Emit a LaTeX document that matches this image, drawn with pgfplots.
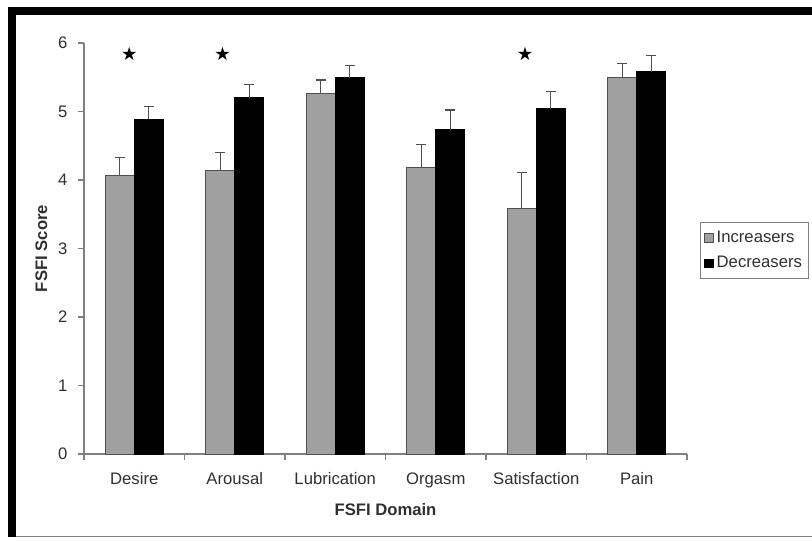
\documentclass[border=0pt]{standalone}
\usepackage{pgfplots}
\pgfplotsset{compat=1.18}
\usepackage{fontspec}
\setmainfont{Liberation Sans}
\newfontfamily\symfont{DejaVu Sans}
\definecolor{barg}{HTML}{A0A0A0}
\definecolor{edgeg}{HTML}{505050}
\definecolor{axg}{HTML}{808080}
\definecolor{txt}{HTML}{303030}
\begin{document}
\begin{tikzpicture}
\useasboundingbox (0,0) rectangle (487.2pt,324pt);
\fill[white] (0,0) rectangle (487.2pt,324pt);
% frame
\fill[black] (4.8pt,315pt) rectangle (487.2pt,319.8pt);
\fill[black] (4.8pt,2pt) rectangle (9.6pt,319.8pt);
\fill[axg] (9.6pt,1.6pt) rectangle (487.2pt,2.6pt);
\begin{axis}[
  at={(50.4pt,51.6pt)}, anchor=south west,
  scale only axis, width=361.8pt, height=246.6pt,
  font=\fontsize{10pt}{12pt}\selectfont,
  /pgf/number format/assume math mode=true,
  axis lines=left, axis line style={-, draw=axg, line width=0.8pt},
  xmin=-0.5, xmax=5.5, ymin=0, ymax=6,
  ytick={0,...,6},
  xtick={0,...,5},
  xticklabels={Desire,Arousal,Lubrication,Orgasm,Satisfaction,Pain},
  minor xtick={-0.5,0.5,...,5.5},
  tick align=outside,
  major tick length=3.5pt, minor tick length=3.5pt,
  x tick style={draw=none},
  minor x tick style={draw=axg, line width=0.8pt},
  y tick style={draw=axg, line width=0.8pt},
  tick label style={text=txt},
  xticklabel style={anchor=base, yshift=-15pt},
  yticklabel style={xshift=-3pt},
  xlabel={\bfseries FSFI Domain},
  ylabel={\bfseries FSFI Score},
  every axis x label/.style={at={(axis description cs:0.5,-0.136)}, anchor=center, text=txt},
  every axis y label/.style={at={(axis description cs:-0.0705,0.5)}, anchor=center, rotate=90, text=txt},
  ybar=0pt, bar width=17.4pt,
  legend style={at={(axis description cs:1.0216,0.5645)}, anchor=north west,
    draw=axg, line width=0.6pt, font=\fontsize{10pt}{12pt}\selectfont, text=txt,
    inner xsep=2pt, inner ysep=3pt, row sep=3pt, cells={anchor=west}},
  legend image code/.code={\draw[#1, line width=0.5pt] (0pt,-2.6pt) rectangle (5.2pt,2.6pt);},
]
\addplot[fill=barg, draw=edgeg, line width=0.6pt,
  error bars/.cd, y dir=plus, y explicit,
  error bar style={draw=edgeg, line width=0.8pt},
  error mark options={rotate=90, mark size=3pt, draw=edgeg, line width=0.8pt}]
  coordinates {
  (0,4.06) +- (0,0.27)
  (1,4.14) +- (0,0.26)
  (2,5.27) +- (0,0.19)
  (3,4.18) +- (0,0.34)
  (4,3.59) +- (0,0.52)
  (5,5.50) +- (0,0.20)
  };
\addplot[fill=black, draw=black, line width=0.6pt,
  error bars/.cd, y dir=plus, y explicit,
  error bar style={draw=edgeg, line width=0.8pt},
  error mark options={rotate=90, mark size=3pt, draw=edgeg, line width=0.8pt}]
  coordinates {
  (0,4.89) +- (0,0.18)
  (1,5.20) +- (0,0.19)
  (2,5.49) +- (0,0.18)
  (3,4.73) +- (0,0.29)
  (4,5.04) +- (0,0.25)
  (5,5.58) +- (0,0.24)
  };
\legend{Increasers,Decreasers}
\addplot[forget plot, only marks, mark=text, text mark={\symfont\fontsize{11pt}{11pt}\selectfont ★}, text mark as node=true]
  coordinates {(-0.05,5.84) (0.88,5.84) (3.89,5.84)};
\end{axis}
\end{tikzpicture}
\end{document}
